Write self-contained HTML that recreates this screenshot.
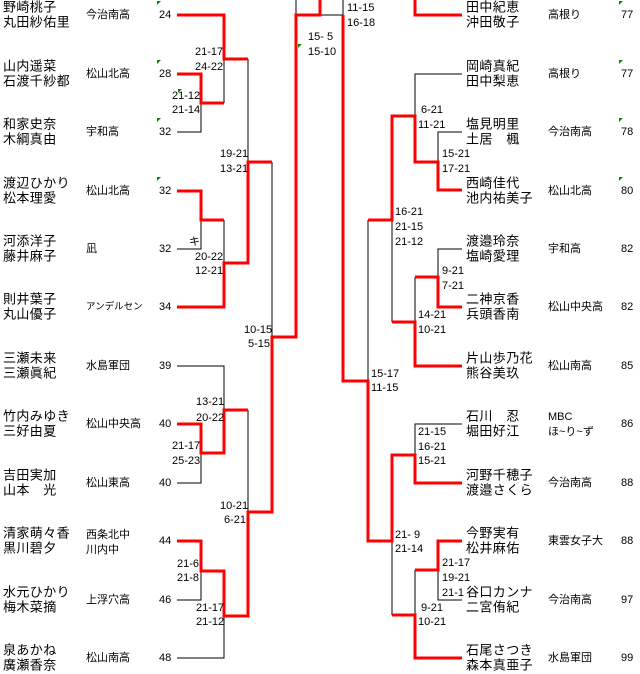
<!DOCTYPE html>
<html><head><meta charset="utf-8"><style>
html,body{margin:0;padding:0;background:#fff;}
svg{display:block}
.n{font-family:"Liberation Sans","Noto Sans CJK JP",sans-serif;font-size:13px;letter-spacing:0.4px}
.t{font-family:"Liberation Sans","Noto Sans CJK JP",sans-serif;font-size:11px}
.s{font-family:"Liberation Sans","DejaVu Sans",sans-serif;font-size:11px}
</style></head><body>
<svg width="640" height="674" viewBox="0 0 640 674" xmlns="http://www.w3.org/2000/svg">
<g fill="none" stroke="#000" stroke-width="1">
<path d="M177 132H201V103 M201 132V103"/>
<path d="M224 59V103"/>
<path d="M248 59V162"/>
<path d="M177 249H201V220"/>
<path d="M224 220V263"/>
<path d="M272 162V337"/>
<path d="M177 366H224V410"/>
<path d="M177 483H201V453"/>
<path d="M248 410V512"/>
<path d="M177 600H201V571"/>
<path d="M177 658H224V616"/>
<path d="M296 0V15 M320 15H343 M343 0V15"/>
<path d="M462 74H415V116"/>
<path d="M462 132H438V162"/>
<path d="M392 220V322"/>
<path d="M462 249H438V277"/>
<path d="M415 277V322"/>
<path d="M368 220V381"/>
<path d="M462 424H415V455"/>
<path d="M392 541V615"/>
<path d="M462 600H438V570"/>
<path d="M415 570V615"/>
</g>
<g fill="none" stroke="#f00" stroke-width="3">
<path d="M177 15H224V59H248"/>
<path d="M177 74H201V103H224"/>
<path d="M177 191H201V220H224"/>
<path d="M177 307H224V263H248V162H272"/>
<path d="M177 424H201V453H224V410H248"/>
<path d="M177 541H201V571H224V616H248V512H272V337H296V15H320V0"/>
<path d="M462 15H415V0"/>
<path d="M462 190H438V162H415V116H392V220H368"/>
<path d="M462 307H438V277H415"/>
<path d="M392 322H415V366H462"/>
<path d="M343 15V381H368V541H392V455H415V483H462"/>
<path d="M368 541H392"/>
<path d="M462 541H438V570H415"/>
<path d="M392 615H415V658H462"/>
</g>
<g fill="#080">
<path d="M157 1h4l-4 4z M157 60h4l-4 4z M157 118h4l-4 4z M157 177h4l-4 4z M178 89h4l-4 4z M298 44h4l-4 4z M619 1h4l-4 4z M619 60h4l-4 4z M619 118h4l-4 4z M619 177h4l-4 4z"/>
</g>
<g class="n" dominant-baseline="central">
<text x="3" y="7">野崎桃子</text><text x="3" y="22">丸田紗佑里</text>
<text x="3" y="66">山内遥菜</text><text x="3" y="81">石渡千紗都</text>
<text x="3" y="124">和家史奈</text><text x="3" y="139">木綱真由</text>
<text x="3" y="183">渡辺ひかり</text><text x="3" y="198">松本理愛</text>
<text x="3" y="241">河添洋子</text><text x="3" y="256">藤井麻子</text>
<text x="3" y="299">則井葉子</text><text x="3" y="314">丸山優子</text>
<text x="3" y="358">三瀬未来</text><text x="3" y="373">三瀬眞紀</text>
<text x="3" y="416">竹内みゆき</text><text x="3" y="431">三好由夏</text>
<text x="3" y="475">吉田実加</text><text x="3" y="490">山本　光</text>
<text x="3" y="533">清家萌々香</text><text x="3" y="548">黒川碧夕</text>
<text x="3" y="592">水元ひかり</text><text x="3" y="607">梅木菜摘</text>
<text x="3" y="650">泉あかね</text><text x="3" y="665">廣瀬香奈</text>

<text x="466" y="7">田中紀恵</text><text x="466" y="22">沖田敬子</text>
<text x="466" y="66">岡崎真紀</text><text x="466" y="81">田中梨恵</text>
<text x="466" y="124">塩見明里</text><text x="466" y="139">土居　楓</text>
<text x="466" y="183">西崎佳代</text><text x="466" y="198">池内祐美子</text>
<text x="466" y="241">渡邉玲奈</text><text x="466" y="256">塩崎愛理</text>
<text x="466" y="299">二神京香</text><text x="466" y="314">兵頭香南</text>
<text x="466" y="358">片山歩乃花</text><text x="466" y="373">熊谷美玖</text>
<text x="466" y="416">石川　忍</text><text x="466" y="431">堀田好江</text>
<text x="466" y="475">河野千穂子</text><text x="466" y="490">渡邉さくら</text>
<text x="466" y="533">今野実有</text><text x="466" y="548">松井麻佑</text>
<text x="466" y="592">谷口カンナ</text><text x="466" y="607">二宮侑紀</text>
<text x="466" y="650">石尾さつき</text><text x="466" y="665">森本真亜子</text>
</g>
<g class="t" dominant-baseline="central">
<text x="86" y="15">今治南高</text><text x="86" y="74">松山北高</text><text x="86" y="132">宇和高</text>
<text x="86" y="191">松山北高</text><text x="86" y="249">凪</text><text x="86" y="307" font-size="9.5">アンデルセン</text>
<text x="86" y="366">水島軍団</text><text x="86" y="424">松山中央高</text><text x="86" y="483">松山東高</text>
<text x="86" y="535">西条北中</text><text x="86" y="550">川内中</text><text x="86" y="600">上浮穴高</text><text x="86" y="658">松山南高</text>
<text x="548" y="15">高根り</text><text x="548" y="74">高根り</text><text x="548" y="132">今治南高</text>
<text x="548" y="191">松山北高</text><text x="548" y="249">宇和高</text><text x="548" y="307">松山中央高</text>
<text x="548" y="366">松山南高</text><text x="548" y="417">MBC</text><text x="548" y="432">ほ~り~ず</text>
<text x="548" y="483">今治南高</text><text x="548" y="541">東雲女子大</text><text x="548" y="600">今治南高</text><text x="548" y="658">水島軍団</text>
</g>
<g class="s" dominant-baseline="central">
<text x="159" y="15">24</text><text x="159" y="74">28</text><text x="159" y="132">32</text>
<text x="159" y="191">32</text><text x="159" y="249">32</text><text x="159" y="307">34</text>
<text x="159" y="366">39</text><text x="159" y="424">40</text><text x="159" y="483">40</text>
<text x="159" y="541">44</text><text x="159" y="600">46</text><text x="159" y="658">48</text>
<text x="621" y="15">77</text><text x="621" y="74">77</text><text x="621" y="132">78</text>
<text x="621" y="191">80</text><text x="621" y="249">82</text><text x="621" y="307">82</text>
<text x="621" y="366">85</text><text x="621" y="424">86</text><text x="621" y="483">88</text>
<text x="621" y="541">88</text><text x="621" y="600">97</text><text x="621" y="658">99</text>

<text x="195" y="52">21-17</text><text x="195" y="67">24-22</text>
<text x="172" y="96">21-12</text><text x="172" y="110">21-14</text>
<text x="220" y="154">19-21</text><text x="220" y="169">13-21</text>
<text x="189" y="242">キ</text>
<text x="195" y="257">20-22</text><text x="195" y="271">12-21</text>
<text x="244" y="330">10-15</text><text x="248" y="344">5-15</text>
<text x="196" y="402">13-21</text><text x="196" y="418">20-22</text>
<text x="172" y="446">21-17</text><text x="172" y="461">25-23</text>
<text x="220" y="506">10-21</text><text x="224" y="520">6-21</text>
<text x="177" y="564">21-6</text><text x="177" y="578">21-8</text>
<text x="196" y="608">21-17</text><text x="196" y="622">21-12</text>

<text x="347" y="8">11-15</text><text x="347" y="23">16-18</text>
<text x="308" y="37">15- 5</text><text x="308" y="52">15-10</text>
<text x="421" y="110">6-21</text><text x="418" y="125">11-21</text>
<text x="442" y="154">15-21</text><text x="442" y="169">17-21</text>
<text x="395" y="212">16-21</text><text x="395" y="227">21-15</text><text x="395" y="242">21-12</text>
<text x="442" y="271">9-21</text><text x="442" y="286">7-21</text>
<text x="418" y="315">14-21</text><text x="418" y="330">10-21</text>
<text x="371" y="374">15-17</text><text x="371" y="388">11-15</text>
<text x="418" y="432">21-15</text><text x="418" y="447">16-21</text><text x="418" y="461">15-21</text>
<text x="395" y="535">21- 9</text><text x="395" y="549">21-14</text>
<text x="442" y="563">21-17</text><text x="442" y="578">19-21</text><text x="442" y="593">21-1</text>
<text x="421" y="608">9-21</text><text x="418" y="622">10-21</text>
</g>
</svg>
</body></html>
